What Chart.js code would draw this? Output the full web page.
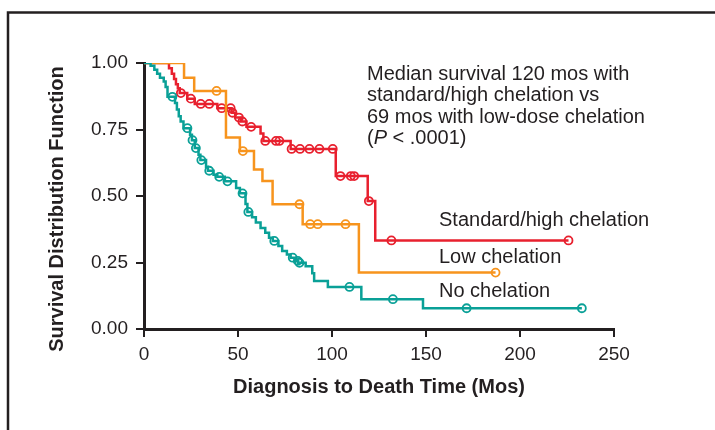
<!DOCTYPE html>
<html>
<head>
<meta charset="utf-8">
<script src="https://cdn.jsdelivr.net/npm/chart.js@4.4.0/dist/chart.umd.min.js"></script>
<style>
html, body { margin: 0; padding: 0; background: #fff; }
#wrap { width: 715px; height: 430px; }
</style>
</head>
<body>
<div id="wrap"><canvas id="survival" width="715" height="430"></canvas></div>
<script>
// Kaplan-Meier curves (months, survival)
var stdEventT = [13.3, 14.8, 16, 17, 18, 19, 23, 27, 39, 46.6, 48.5, 51.5, 54.5, 62, 63.5, 78, 102, 119, 123];
var stdEventS = [0.98, 0.96, 0.94, 0.92, 0.905, 0.887, 0.866, 0.846, 0.83, 0.813, 0.795, 0.78, 0.76, 0.735, 0.707, 0.677, 0.575, 0.481, 0.333];
var stdCensT = [19.6, 24.9, 30.2, 34.7, 41.3, 46.1, 47.1, 50.5, 52.3, 57, 64.5, 70.2, 72, 78.5, 83, 88, 93.3, 100.4, 104.5, 110, 111.8, 119.6, 131.6, 225.8];

var lowEventT = [21.3, 26.7, 43.6, 51, 58.5, 63, 68.4, 84.4, 114.3];
var lowEventS = [0.945, 0.895, 0.72, 0.669, 0.60, 0.556, 0.469, 0.394, 0.212];
var lowCensT = [38.6, 52.6, 82.7, 88.4, 92.4, 107.2, 187];

var noEventT = [3.5, 5.5, 7, 8.5, 10.5, 11.5, 12.5, 16.5, 17.5, 18.5, 19.5, 21, 24.5, 25.5, 27, 29, 30, 33, 34, 37, 39, 43, 49, 51, 54, 55, 57.5, 59.5, 62, 64.5, 66.5, 68.5, 71.5, 73.5, 76, 78, 80.5, 82, 86, 89.5, 90.5, 97.8, 115.6, 148.4];
var noEventS = [0.99, 0.975, 0.96, 0.945, 0.93, 0.91, 0.873, 0.85, 0.825, 0.80, 0.78, 0.755, 0.73, 0.71, 0.68, 0.655, 0.635, 0.61, 0.595, 0.58, 0.572, 0.555, 0.53, 0.51, 0.47, 0.44, 0.42, 0.40, 0.38, 0.362, 0.343, 0.331, 0.312, 0.293, 0.28, 0.268, 0.256, 0.249, 0.236, 0.21, 0.18, 0.158, 0.112, 0.078];
var noCensT = [15.1, 23.1, 25.8, 27.6, 30.5, 34.7, 40, 44.4, 52.4, 55.5, 69.3, 79.1, 81.8, 82.7, 109.3, 132.4, 171.6, 232.9];

var xTicks = [0, 50, 100, 150, 200, 250];
var yTicks = [0, 0.25, 0.5, 0.75, 1];

var seriesNames = ['Standard/high chelation', 'Low chelation', 'No chelation'];
var noteLines = ['Median survival 120 mos with', 'standard/high chelation vs', '69 mos with low-dose chelation'];
var yTitle = 'Survival Distribution Function';

var ink = '#231f20';
var red = '#e8202e';
var orange = '#f7941d';
var teal = '#0aa097';
var fontFam = "'Liberation Sans', Arial, Helvetica, sans-serif";

// events + censored marks -> one sorted step list
function buildPoints(eventT, eventS, censT) {
    var pts = [{x: 0, y: 1, c: false}];
    for (var i = 0; i < eventT.length; i++) {
        pts.push({x: eventT[i], y: eventS[i], c: false});
    }
    for (var j = 0; j < censT.length; j++) {
        var level = 1;
        for (var k = 0; k < eventT.length; k++) {
            if (eventT[k] <= censT[j]) level = eventS[k];
        }
        pts.push({x: censT[j], y: level, c: true});
    }
    pts.sort(function (a, b) { return a.x - b.x; });
    return pts;
}

function makeSet(label, pts, color) {
    return {
        label: label,
        data: pts,
        showLine: true,
        stepped: 'before',
        fill: false,
        borderColor: color,
        borderWidth: 2.5,
        pointRadius: function (ctx) { return ctx.raw && ctx.raw.c ? 4 : 0; },
        pointHoverRadius: 0,
        pointBorderColor: color,
        pointBackgroundColor: 'rgba(255,255,255,0)',
        pointBorderWidth: 1.8
    };
}

var notesPlugin = {
    id: 'notes',
    beforeDraw: function (chart) {
        var ctx = chart.ctx;
        ctx.save();
        ctx.fillStyle = '#fff';
        ctx.fillRect(0, 0, chart.width, chart.height);
        // outer frame, only left and top visible
        ctx.strokeStyle = ink;
        ctx.lineWidth = 2.5;
        ctx.beginPath();
        ctx.moveTo(8, chart.height);
        ctx.lineTo(8, 12.5);
        ctx.lineTo(chart.width, 12.5);
        ctx.stroke();
        ctx.restore();
    },
    afterDraw: function (chart) {
        var ctx = chart.ctx;
        var fs = '20px ';
        ctx.save();
        ctx.fillStyle = ink;
        ctx.textBaseline = 'middle';
        ctx.font = fs + fontFam;
        var nx = 367;
        for (var i = 0; i < noteLines.length; i++) {
            ctx.fillText(noteLines[i], nx, 74 + i * 21.5);
        }
        var py = 74 + 3 * 21.5;
        ctx.fillText('(', nx, py);
        var w = ctx.measureText('(').width;
        ctx.font = 'italic ' + fs + fontFam;
        ctx.fillText('P', nx + w, py);
        w += ctx.measureText('P').width;
        ctx.font = fs + fontFam;
        ctx.fillText(' < .0001)', nx + w, py);

        var labelY = [220, 257, 291];
        for (var s = 0; s < seriesNames.length; s++) {
            ctx.fillText(seriesNames[s], 439, labelY[s]);
        }

        // y axis title sits a bit below the plot centre in the original
        ctx.translate(57, 209);
        ctx.rotate(-Math.PI / 2);
        ctx.textAlign = 'center';
        ctx.font = 'bold 20px ' + fontFam;
        ctx.fillText(yTitle, 0, 0);
        ctx.restore();
    }
};

var chartEl = document.getElementById('survival');
var survivalChart = new Chart(chartEl, {
    type: 'scatter',
    data: {
        datasets: [
            makeSet(seriesNames[2], buildPoints(noEventT, noEventS, noCensT), teal),
            makeSet(seriesNames[1], buildPoints(lowEventT, lowEventS, lowCensT), orange),
            makeSet(seriesNames[0], buildPoints(stdEventT, stdEventS, stdCensT), red)
        ]
    },
    options: {
        responsive: false,
        devicePixelRatio: 1,
        animation: false,
        layout: { padding: { left: 0, top: 63, right: 101, bottom: 0 } },
        plugins: {
            legend: { display: false },
            tooltip: { enabled: false }
        },
        scales: {
            x: {
                type: 'linear',
                min: 0,
                max: 250,
                afterFit: function (scale) { scale.height = 101; },
                afterBuildTicks: function (scale) {
                    scale.ticks = xTicks.map(function (v) { return {value: v}; });
                },
                border: { display: true, color: ink, width: 3 },
                grid: { display: true, drawOnChartArea: false, drawTicks: true, tickLength: 8, color: ink, lineWidth: 2 },
                ticks: { color: ink, font: { family: fontFam, size: 19 }, padding: 6, maxRotation: 0 },
                title: {
                    display: true,
                    text: 'Diagnosis to Death Time (Mos)',
                    color: ink,
                    font: { family: fontFam, size: 20, weight: 'bold' },
                    padding: { top: 0, bottom: 31 }
                }
            },
            y: {
                min: 0,
                max: 1,
                afterFit: function (scale) { scale.width = 144; },
                afterBuildTicks: function (scale) {
                    scale.ticks = yTicks.map(function (v) { return {value: v}; });
                },
                border: { display: true, color: ink, width: 3 },
                grid: { display: true, drawOnChartArea: false, drawTicks: true, tickLength: 8, color: ink, lineWidth: 2 },
                ticks: {
                    color: ink,
                    font: { family: fontFam, size: 19 },
                    padding: 8,
                    callback: function (v) { return Number(v).toFixed(2); }
                },
                title: { display: false }
            }
        }
    },
    plugins: [notesPlugin]
});
</script>
</body>
</html>
